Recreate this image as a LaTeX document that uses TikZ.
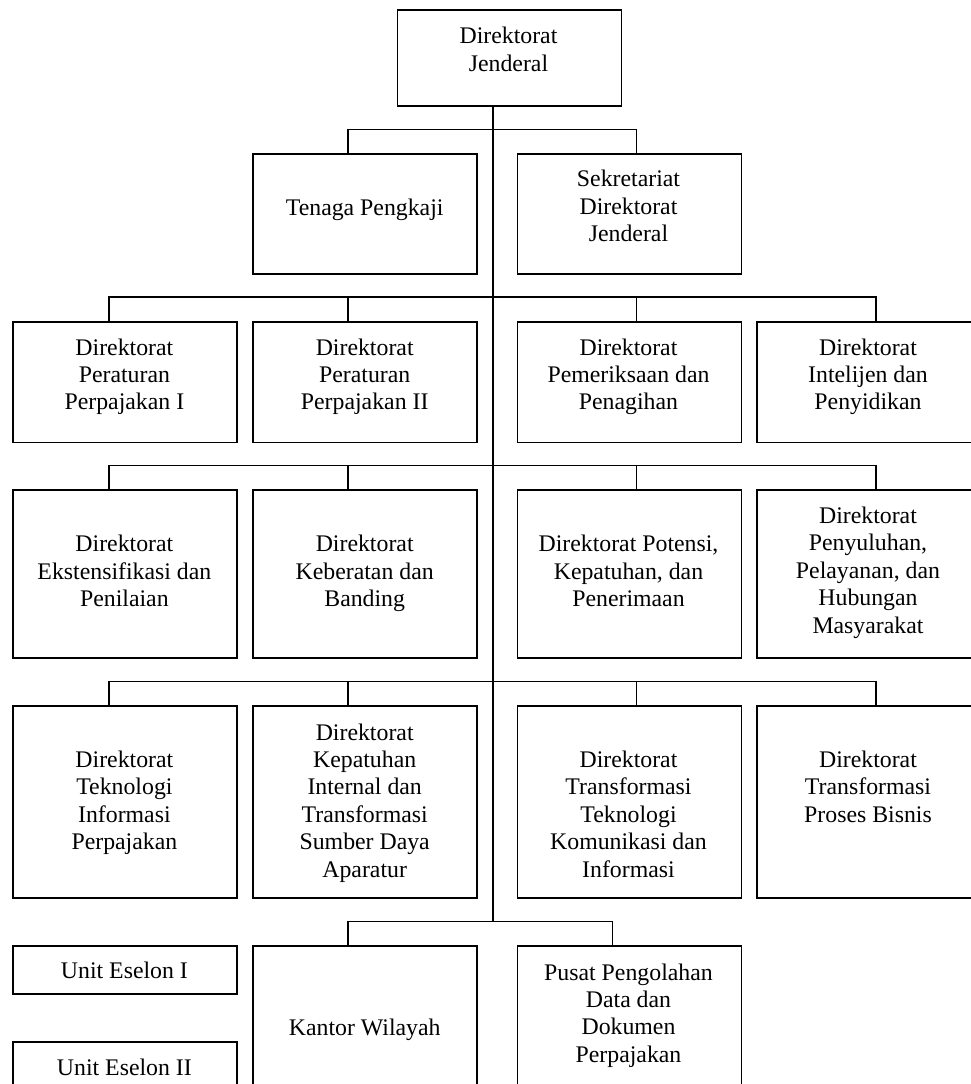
\documentclass[tikz,border=0pt]{standalone}
\usepackage{fontspec}
\setmainfont{Liberation Serif}
\begin{document}
\begin{tikzpicture}[x=1pt,y=-1pt,
  unit/.style={draw, line width=1.6pt, minimum width=224pt, inner sep=0pt, anchor=north west},
  caption/.style={anchor=north, align=center, inner sep=0pt,
    font=\fontsize{23.8}{27.4}\selectfont},
  link/.style={line width=1.2pt}]
\useasboundingbox (0,0) rectangle (970,1084);

% column drop positions and trunk
\coordinate (trunk) at (493,0);
\coordinate (d1) at (109,0);
\coordinate (d2) at (348,0);
\coordinate (d3) at (636.6,0);
\coordinate (d4) at (876,0);
\coordinate (d5) at (612.5,0);
% bus levels
\coordinate (b1) at (493,129.3);
\coordinate (b2) at (493,297);
\coordinate (b3) at (493,465.7);
\coordinate (b4) at (493,681.7);
\coordinate (b5) at (493,921.7);

% top
\node[unit, minimum height=96pt] (dj) at (396.5,9) {};
\node[caption] (dj-t) at (508.5,27) {Direktorat\\Jenderal};

% row 1
\node[unit, minimum height=120.3pt] (tp) at (252.4,153) {};
\node[caption] (tp-t) at (364.7,198.3) {Tenaga Pengkaji};
\node[unit, minimum height=120.3pt] (sk) at (516.5,153) {};
\node[caption] (sk-t) at (628.5,170) {Sekretariat\\Direktorat\\Jenderal};

% row 2
\node[unit, minimum height=120.4pt] (pp1) at (12.4,321.3) {};
\node[caption] (pp1-t) at (124.4,338.3) {Direktorat\\Peraturan\\Perpajakan I};
\node[unit, minimum height=120.4pt] (pp2) at (252.4,321.3) {};
\node[caption] (pp2-t) at (364.7,338.3) {Direktorat\\Peraturan\\Perpajakan II};
\node[unit, minimum height=120.4pt] (pdp) at (516.5,321.3) {};
\node[caption] (pdp-t) at (628.5,338.3) {Direktorat\\Pemeriksaan dan\\Penagihan};
\node[unit, minimum height=120.4pt] (idp) at (756,321.3) {};
\node[caption] (idp-t) at (868,338.3) {Direktorat\\Intelijen dan\\Penyidikan};

% row 3
\node[unit, minimum height=168pt] (edp) at (12.4,489.3) {};
\node[caption] (edp-t) at (124.4,535) {Direktorat\\Ekstensifikasi dan\\Penilaian};
\node[unit, minimum height=168pt] (kdb) at (252.4,489.3) {};
\node[caption] (kdb-t) at (364.7,535) {Direktorat\\Keberatan dan\\Banding};
\node[unit, minimum height=168pt] (pkp) at (516.5,489.3) {};
\node[caption] (pkp-t) at (628.5,535) {Direktorat Potensi,\\Kepatuhan, dan\\Penerimaan};
\node[unit, minimum height=168pt] (p2h) at (756,489.3) {};
\node[caption] (p2h-t) at (868,506.7) {Direktorat\\Penyuluhan,\\Pelayanan, dan\\Hubungan\\Masyarakat};

% row 4
\node[unit, minimum height=192pt] (tip) at (12.4,705.3) {};
\node[caption] (tip-t) at (124.4,750.7) {Direktorat\\Teknologi\\Informasi\\Perpajakan};
\node[unit, minimum height=192pt] (kit) at (252.4,705.3) {};
\node[caption] (kit-t) at (364.7,723.3) {Direktorat\\Kepatuhan\\Internal dan\\Transformasi\\Sumber Daya\\Aparatur};
\node[unit, minimum height=192pt] (ttk) at (516.5,705.3) {};
\node[caption] (ttk-t) at (628.5,750.7) {Direktorat\\Transformasi\\Teknologi\\Komunikasi dan\\Informasi};
\node[unit, minimum height=192pt] (tpb) at (756,705.3) {};
\node[caption] (tpb-t) at (868,750.7) {Direktorat\\Transformasi\\Proses Bisnis};

% bottom row
\node[unit, minimum height=160pt] (kw) at (252.4,945.3) {};
\node[caption] (kw-t) at (364.7,1018.3) {Kantor Wilayah};
\node[unit, minimum height=160pt] (pd) at (516.5,945.3) {};
\node[caption] (pd-t) at (628.5,963.3) {Pusat Pengolahan\\Data dan\\Dokumen\\Perpajakan};

% legend boxes
\node[unit, minimum height=48pt] (ue1) at (12.4,945.3) {};
\node[caption] (ue1-t) at (124.4,961.7) {Unit Eselon I};
\node[unit, minimum height=60pt] (ue2) at (12.4,1041) {};
\node[caption] (ue2-t) at (124.4,1058.3) {Unit Eselon II};

% trunk
\draw[link] (dj.south -| trunk) -- (b5);
% level 1
\draw[link] (tp.north -| d2) |- (b1) -| (sk.north -| d3);
% level 2
\draw[link] (pp1.north -| d1) |- (b2) -| (idp.north -| d4);
\draw[link] (b2 -| d2) -- (pp2.north -| d2);
\draw[link] (b2 -| d3) -- (pdp.north -| d3);
% level 3
\draw[link] (edp.north -| d1) |- (b3) -| (p2h.north -| d4);
\draw[link] (b3 -| d2) -- (kdb.north -| d2);
\draw[link] (b3 -| d3) -- (pkp.north -| d3);
% level 4
\draw[link] (tip.north -| d1) |- (b4) -| (tpb.north -| d4);
\draw[link] (b4 -| d2) -- (kit.north -| d2);
\draw[link] (b4 -| d3) -- (ttk.north -| d3);
% level 5
\draw[link] (kw.north -| d2) |- (b5) -| (pd.north -| d5);
\end{tikzpicture}
\end{document}
